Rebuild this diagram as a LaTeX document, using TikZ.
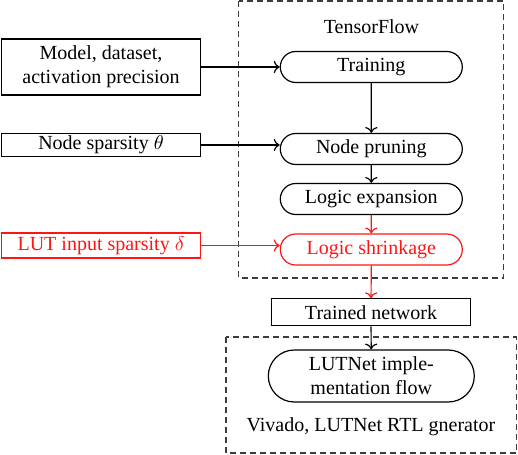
\documentclass[tikz,border=0pt]{standalone}
\usepackage{fontspec}
\setmainfont{Liberation Serif}
\usepackage{amsmath,amssymb}
\usepackage{tikz}
\usetikzlibrary{arrows.meta,positioning,shapes.misc}
\definecolor{lutred}{RGB}{255,20,20}
\definecolor{frame}{RGB}{60,60,60}

\begin{document}
\begin{tikzpicture}[x=0.5pt,y=-0.5pt,
    inbox/.style={draw,line width=0.6pt,rectangle,minimum width=99.5pt,inner sep=1pt,align=center},
    stage/.style={draw,line width=0.6pt,rounded rectangle,minimum width=93pt,minimum height=15.5pt,inner sep=1pt},
    toolbox/.style={draw=frame,line width=0.6pt,dash pattern=on 3pt off 2pt},
    flow/.style={->,line width=0.6pt}]
  \useasboundingbox (0,0) rectangle (518,454);
  % tool frames
  \draw[toolbox] (238.5,1) rectangle (503.5,278);
  \draw[toolbox] (226,337) rectangle (516.5,453);
  \node (tf) at (371.5,27) {TensorFlow};
  \node (viv) at (371,427) {Vivado, LUTNet RTL gnerator};
  % inputs
  \node[inbox,minimum height=28pt] (model) at (101,67) {Model, dataset,\\activation precision};
  \node[inbox,minimum height=11.5pt] (nsp) at (101,145) {Node sparsity $\theta$};
  \node[inbox,minimum height=12.5pt,draw=lutred,text=lutred] (lsp) at (101,245.5) {LUT input sparsity $\delta$};
  % stages
  \node[stage] (train) at (371.3,67) {Training};
  \node[stage] (prune) at (371.3,149) {Node pruning};
  \node[stage] (expand) at (371.3,199) {Logic expansion};
  \node[stage,draw=lutred,text=lutred] (shrink) at (371.3,249.5) {Logic shrinkage};
  \node[inbox,minimum height=13.5pt] (net) at (371,312.3) {Trained network};
  \node[stage,minimum width=105pt,minimum height=26pt,align=center] (impl) at (371.3,376) {LUTNet imple-\\mentation flow};
  % connectors
  \draw[flow] (model) -- (train);
  \draw[flow] (nsp) -- (nsp -| prune.west);
  \draw[flow,lutred] (lsp) -- (lsp -| shrink.west);
  \draw[flow] (train) -- (prune);
  \draw[flow] (prune) -- (expand);
  \draw[flow,lutred] (expand) -- (shrink);
  \draw[flow,lutred] (shrink) -- (net);
  \draw[flow] (net) -- (impl);
\end{tikzpicture}
\end{document}
